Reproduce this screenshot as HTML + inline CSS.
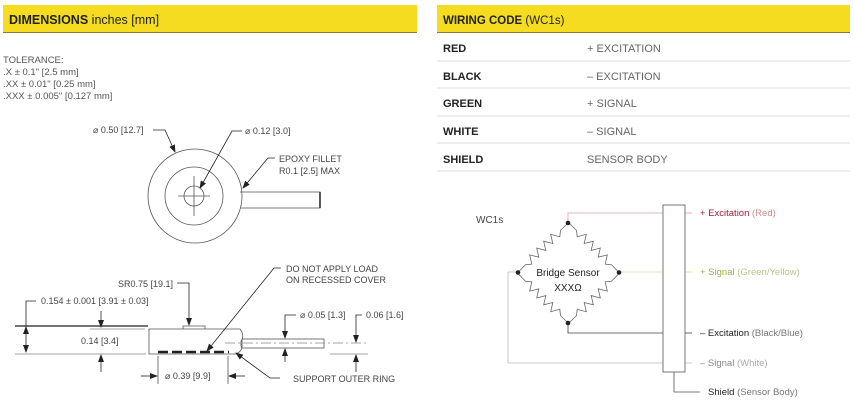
<!DOCTYPE html>
<html><head><meta charset="utf-8"><style>
body{margin:0;background:#fff;width:854px;height:404px;overflow:hidden;font-family:"Liberation Sans",sans-serif}
</style></head><body>
<svg width="854" height="404" viewBox="0 0 854 404" xmlns="http://www.w3.org/2000/svg" font-family="Liberation Sans, sans-serif">
<defs>
<marker id="a" markerWidth="8" markerHeight="6" refX="7" refY="3" orient="auto" markerUnits="userSpaceOnUse"><path d="M0,0 L8,3 L0,6z" fill="#222"/></marker>
<path id="r" fill="none" stroke="#666" stroke-width="0.8" d="M568,223 L560.5,230.4 L559.8,236.7 L550.7,234.3 L552.8,243.5 L543.7,241.2 L545.8,250.4 L536.7,248 L538.8,257.2 L529.7,254.9 L531.8,264.1 L525.5,264.7 L518,272.5"/>
</defs>
<!-- headers -->
<rect x="3" y="5" width="414" height="27" fill="#f5dc20"/>
<line x1="3" y1="32.5" x2="417" y2="32.5" stroke="#8a7a40" stroke-width="1"/>
<text x="9" y="24" font-size="12.5" fill="#222"><tspan font-weight="bold">DIMENSIONS</tspan> inches [mm]</text>
<rect x="437" y="5" width="413" height="27" fill="#f5dc20"/>
<line x1="437" y1="32.5" x2="850" y2="32.5" stroke="#8a7a40" stroke-width="1"/>
<text x="443" y="24" font-size="11.5" fill="#222"><tspan font-weight="bold">WIRING CODE</tspan> (WC1s)</text>
<!-- table -->
<g font-size="11" fill="#222">
<text x="443" y="52" font-weight="bold">RED</text><text x="587" y="52" fill="#666">+ EXCITATION</text>
<text x="443" y="80" font-weight="bold">BLACK</text><text x="587" y="80" fill="#666">– EXCITATION</text>
<text x="443" y="107" font-weight="bold">GREEN</text><text x="587" y="107" fill="#666">+ SIGNAL</text>
<text x="443" y="135" font-weight="bold">WHITE</text><text x="587" y="135" fill="#666">– SIGNAL</text>
<text x="443" y="163" font-weight="bold">SHIELD</text><text x="587" y="163" fill="#666">SENSOR BODY</text>
</g>
<g stroke="#ddd" stroke-width="1">
<line x1="437" y1="61" x2="850" y2="61"/><line x1="437" y1="88" x2="850" y2="88"/>
<line x1="437" y1="116" x2="850" y2="116"/><line x1="437" y1="143" x2="850" y2="143"/>
<line x1="437" y1="171" x2="850" y2="171"/>
</g>
<!-- tolerance -->
<g font-size="9.5" fill="#555">
<text x="3" y="63">TOLERANCE:</text>
<text x="3" y="75">.X ± 0.1" [2.5 mm]</text>
<text x="3" y="87">.XX ± 0.01" [0.25 mm]</text>
<text x="3" y="99">.XXX ± 0.005" [0.127 mm]</text>
</g>
<!-- top view -->
<g fill="none" stroke="#555" stroke-width="0.8">
<circle cx="195" cy="196" r="47"/>
<circle cx="194" cy="196" r="29"/>
<circle cx="194" cy="196" r="10"/>
<line x1="178" y1="196" x2="210" y2="196"/><line x1="194" y1="176" x2="194" y2="216"/>
<path d="M240,192 L320,192 L320,208 L241,208" />
<line x1="320" y1="192" x2="320" y2="208" stroke="#222" stroke-width="1.5"/>
</g>
<g fill="none" stroke="#222" stroke-width="0.8">
<path d="M153,130 L165,130 L175,152" marker-end="url(#a)"/>
<path d="M242,131 L232,131 L200,188" marker-end="url(#a)"/>
<path d="M275,158 L268,158 L243,188" marker-end="url(#a)"/>
</g>
<g font-size="9" fill="#444">
<text x="93" y="133">⌀ 0.50 [12.7]</text>
<text x="245" y="134">⌀ 0.12 [3.0]</text>
<text x="279" y="162">EPOXY FILLET</text>
<text x="279" y="174">R0.1 [2.5] MAX</text>
</g>
<!-- side view -->
<g fill="none" stroke-width="0.8">
<line x1="15" y1="326" x2="148" y2="326" stroke="#222" stroke-width="1.2"/>
<line x1="15" y1="354" x2="146" y2="354" stroke="#888"/>
<line x1="90" y1="329" x2="145" y2="329" stroke="#888"/>
<path d="M149,354 L149,329 L240,329 C244,334 243,339 241,341 L241,346 C243,349 240,352 236,354 Z" stroke="#555"/>
<path d="M183,329 L183,326 L205,326 L205,329" stroke="#555"/>
<rect x="242" y="339" width="82" height="9" stroke="#555"/>
<line x1="225" y1="343" x2="368" y2="343" stroke="#888" stroke-dasharray="10,3,2,3"/>
<line x1="330" y1="354" x2="368" y2="354" stroke="#888"/>
<line x1="158" y1="352" x2="229" y2="352" stroke="#222" stroke-width="2.5" stroke-dasharray="10,4"/>
<line x1="158" y1="356" x2="158" y2="384" stroke="#555"/>
<line x1="228" y1="356" x2="228" y2="384" stroke="#555"/>
</g>
<g fill="none" stroke="#222" stroke-width="0.8">
<path d="M36,301 L26,301 L26,352" marker-end="url(#a)"/>
<line x1="26" y1="330" x2="26" y2="327" marker-end="url(#a)"/>
<line x1="101" y1="311" x2="101" y2="327" marker-end="url(#a)"/>
<line x1="101" y1="372" x2="101" y2="355" marker-end="url(#a)"/>
<path d="M177,283 L189,283 L189,325" marker-end="url(#a)"/>
<path d="M281,268 L274,268 L207,351" marker-end="url(#a)"/>
<path d="M280,378 L270,378 L236,353" marker-end="url(#a)"/>
<line x1="141" y1="376" x2="157" y2="376" marker-end="url(#a)"/>
<line x1="245" y1="376" x2="229" y2="376" marker-end="url(#a)"/>
<path d="M296,315 L285,315 L285,338" marker-end="url(#a)"/>
<line x1="285" y1="362" x2="285" y2="349" marker-end="url(#a)"/>
<path d="M362,315 L356,315 L356,342" marker-end="url(#a)"/>
<line x1="356" y1="372" x2="356" y2="355" marker-end="url(#a)"/>
</g>
<g font-size="9" fill="#444">
<text x="118" y="287">SR0.75 [19.1]</text>
<text x="41" y="304">0.154 ± 0.001 [3.91 ± 0.03]</text>
<text x="81" y="344">0.14 [3.4]</text>
<text x="286" y="272">DO NOT APPLY LOAD</text>
<text x="286" y="283">ON RECESSED COVER</text>
<text x="300" y="318">⌀ 0.05 [1.3]</text>
<text x="366" y="318">0.06 [1.6]</text>
<text x="165" y="379">⌀ 0.39 [9.9]</text>
<text x="293" y="382">SUPPORT OUTER RING</text>
</g>
<!-- wiring schematic -->
<text x="476" y="223" font-size="10" fill="#444">WC1s</text>
<g fill="none" stroke-width="0.8">
<path d="M568,223 L568,213 L663,213" stroke="#d9a0a8"/>
<line x1="685" y1="213" x2="692" y2="213" stroke="#d9a0a8"/>
<line x1="619" y1="272" x2="663" y2="272" stroke="#cfdca8"/>
<line x1="685" y1="272" x2="692" y2="272" stroke="#cfdca8"/>
<path d="M568,323 L568,333 L663,333" stroke="#444"/>
<line x1="685" y1="333" x2="692" y2="333" stroke="#444"/>
<path d="M518,272 L508,272 L508,363 L663,363" stroke="#bbb"/>
<line x1="685" y1="363" x2="692" y2="363" stroke="#bbb"/>
<path d="M674,372 L674,392 L700,392" stroke="#555"/>
<rect x="663" y="205" width="22" height="167" stroke="#555"/>
</g>
<use href="#r"/>
<use href="#r" transform="translate(1137,0) scale(-1,1)"/>
<use href="#r" transform="translate(0,546) scale(1,-1)"/>
<use href="#r" transform="translate(1137,546) scale(-1,-1)"/>
<g fill="#222"><circle cx="568" cy="223" r="2.3"/><circle cx="518" cy="272.5" r="2.3"/><circle cx="619" cy="272.5" r="2.3"/><circle cx="568" cy="323" r="2.3"/></g>
<text x="568" y="276" font-size="10" fill="#222" text-anchor="middle">Bridge Sensor</text>
<text x="568" y="291" font-size="10" fill="#222" text-anchor="middle">XXXΩ</text>
<g font-size="9.5">
<text x="700" y="216" fill="#a0203a">+ <tspan>Excitation</tspan> <tspan fill="#c88">(Red)</tspan></text>
<text x="700" y="275" fill="#9ab040">+ Signal <tspan fill="#b8c888">(Green/Yellow)</tspan></text>
<text x="700" y="336" fill="#222">– Excitation <tspan fill="#777">(Black/Blue)</tspan></text>
<text x="700" y="366" fill="#888">– Signal <tspan fill="#aaa">(White)</tspan></text>
<text x="708" y="395" fill="#222">Shield <tspan fill="#777">(Sensor Body)</tspan></text>
</g>
</svg>
</body></html>
